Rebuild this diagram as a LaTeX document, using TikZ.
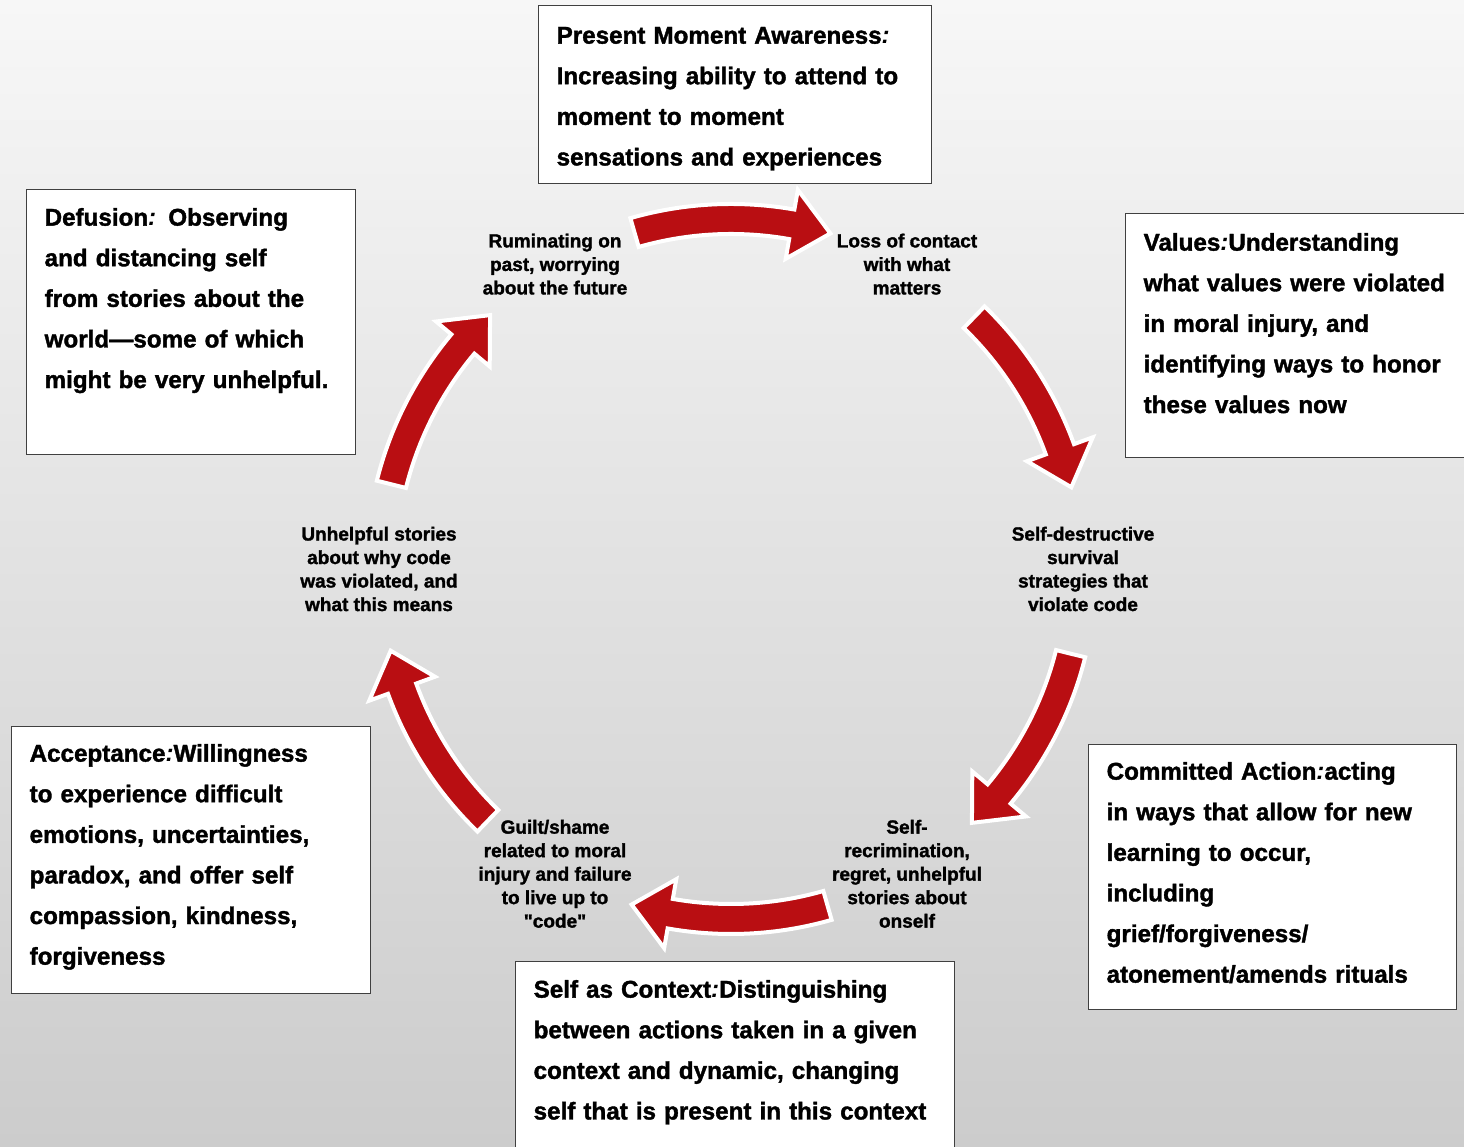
\documentclass[tikz,border=0pt]{standalone}
\usepackage{fontspec}
\setmainfont{Liberation Sans}[BoldFeatures={FakeBold=1.5}]
\definecolor{arrowred}{RGB}{185,14,18}
\definecolor{bgtop}{RGB}{247,247,247}
\definecolor{bgmid}{RGB}{231,231,231}
\definecolor{bgbot}{RGB}{204,204,204}
\hyphenpenalty=10000
% one curved block arrow of the cycle, centred on angle #1
\newcommand{\cyclearrow}[1]{%
  \filldraw[cyclearrow] (#1+16:365) arc[start angle=#1+16, end angle=#1-10, radius=365]
    -- (#1-10:385) -- (#1-16.5:350) -- (#1-10:315) -- (#1-10:335)
    arc[start angle=#1-10, end angle=#1+16, radius=335] -- cycle;}

\begin{document}
\begin{tikzpicture}[x=1pt, y=1pt,
  panel/.style={draw=black!75, line width=1.3pt, fill=white, anchor=north west,
    align=left, inner xsep=18pt, inner ysep=10pt,
    font=\fontsize{24.2}{40.6}\selectfont\bfseries},
  stage/.style={align=center, font=\fontsize{19}{23.5}\selectfont\bfseries},
  cyclearrow/.style={fill=arrowred, draw=white, line width=4pt, line join=miter}]
\useasboundingbox (0,0) rectangle (1464,1147);
\shade[top color=bgtop, middle color=bgmid, bottom color=bgbot] (0,0) rectangle (1464,1147);

% the six boxes
\node[panel, text width=357pt, text height=28pt, text depth=130pt] (pma) at (538,1142)
  {Present Moment Awareness\textit{:}\\Increasing ability to attend to\\moment to moment\\sensations and experiences};
\node[panel, text width=293pt, text height=26pt, text depth=219pt] (defusion) at (26,958)
  {Defusion\textit{:} Observing\\and distancing self\\from stories about the\\world\textemdash some of which\\might be very unhelpful.};
\node[panel, text width=314pt, text height=27pt, text depth=197pt] (values) at (1125,934)
  {Values\textit{:}Understanding\\what values were violated\\in moral injury, and\\identifying ways to honor\\these values now};
\node[panel, text width=332pt, text height=25pt, text depth=220pt] (action) at (1088,403)
  {Committed Action\textit{:}acting\\in ways that allow for new\\learning to occur,\\including\\grief/forgiveness/\\atonement/amends rituals};
\node[panel, text width=323pt, text height=25pt, text depth=222pt] (acceptance) at (11,421)
  {Acceptance\textit{:}Willingness\\to experience difficult\\emotions, uncertainties,\\paradox, and offer self\\compassion, kindness,\\forgiveness};
\node[panel, text width=403pt, text height=26pt, text depth=154pt] (context) at (515,186)
  {Self as Context\textit{:}Distinguishing\\between actions taken in a given\\context and dynamic, changing\\self that is present in this context};

% the cycle
\begin{scope}[shift={(731,578)}]
  \cyclearrow{90}
  \cyclearrow{30}
  \cyclearrow{-30}
  \cyclearrow{-90}
  \cyclearrow{-150}
  \cyclearrow{150}
  \node[stage] (ruminating) at (120:352) {Ruminating on\\past, worrying\\about the future};
  \node[stage] (contact) at (60:352) {Loss of contact\\with what\\matters};
  \node[stage] (survival) at (0:352) {Self-destructive\\survival\\strategies that\\violate code};
  \node[stage] (recrimination) at (-60:352) {Self-\\recrimination,\\regret, unhelpful\\stories about\\onself};
  \node[stage] (guilt) at (-120:352) {Guilt/shame\\related to moral\\injury and failure\\to live up to\\\textquotedbl code\textquotedbl};
  \node[stage] (stories) at (180:352) {Unhelpful stories\\about why code\\was violated, and\\what this means};
\end{scope}
\end{tikzpicture}
\end{document}
